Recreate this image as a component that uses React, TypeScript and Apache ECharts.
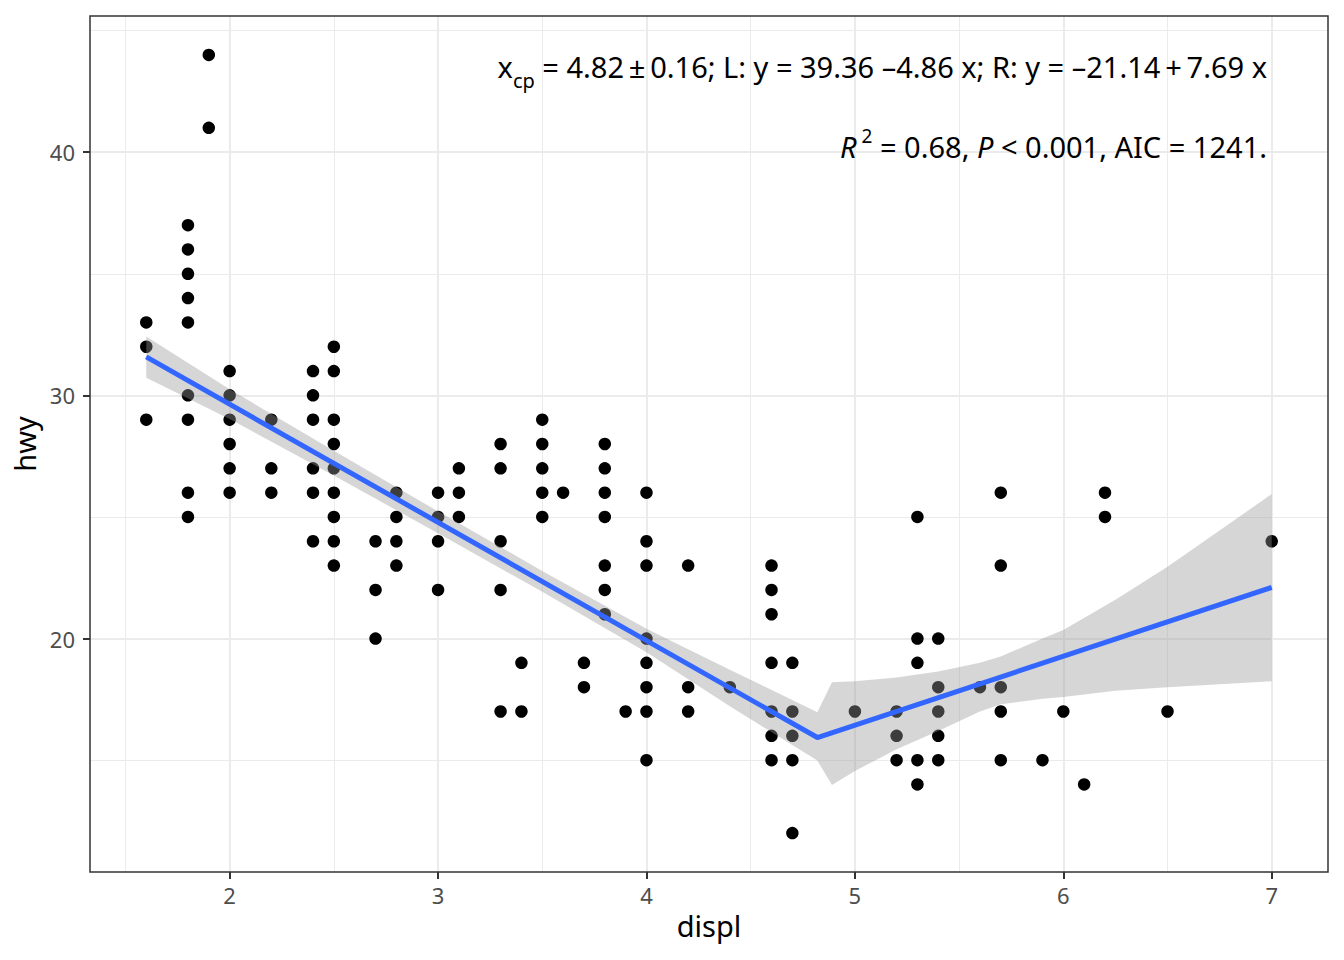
import React, { useEffect, useRef } from "react";
import * as echarts from "echarts";

// displ columns and the hwy values observed at each
const displCols = [1.6, 1.8, 1.9, 2.0, 2.2, 2.4, 2.5, 2.7, 2.8, 3.0, 3.1, 3.3, 3.4, 3.5, 3.6, 3.7, 3.8, 3.9, 4.0, 4.2, 4.4, 4.6, 4.7, 5.0, 5.2, 5.3, 5.4, 5.6, 5.7, 5.9, 6.0, 6.1, 6.2, 6.5, 7.0];
const hwyCols = [
  [33, 32, 29],
  [37, 36, 35, 34, 33, 30, 29, 26, 25],
  [44, 41],
  [31, 30, 29, 28, 27, 26],
  [29, 27, 26],
  [31, 30, 29, 27, 26, 24],
  [32, 31, 29, 28, 27, 26, 25, 24, 23],
  [24, 22, 20],
  [26, 25, 24, 23],
  [26, 25, 24, 22],
  [27, 26, 25],
  [28, 27, 24, 22, 17],
  [19, 17],
  [29, 28, 27, 26, 25],
  [26],
  [19, 18],
  [28, 27, 26, 25, 23, 22, 21],
  [17],
  [26, 24, 23, 20, 19, 18, 17, 15],
  [23, 18, 17],
  [18],
  [23, 22, 21, 19, 17, 16, 15],
  [19, 17, 16, 15, 12],
  [17],
  [17, 16, 15],
  [25, 20, 19, 15, 14],
  [20, 18, 17, 16, 15],
  [18],
  [26, 23, 18, 17, 15],
  [15],
  [17],
  [14],
  [26, 25],
  [17],
  [24],
];

// fitted segmented line
const fitX = [1.6, 4.82, 7.0];
const fitY = [31.58, 15.93, 22.1];

// confidence band
const bandX = [1.6, 2.0, 2.5, 3.0, 3.5, 4.0, 4.4, 4.82, 4.89, 5.0, 5.2, 5.4, 5.6, 5.7, 5.9, 6.0, 6.25, 6.5, 7.0];
const bandUpper = [32.42, 30.25, 27.72, 25.23, 22.78, 20.4, 18.72, 16.97, 18.2, 18.24, 18.4, 18.65, 19.0, 19.26, 20.0, 20.35, 21.6, 22.95, 25.94];
const bandLower = [30.72, 29.03, 26.7, 24.33, 21.92, 19.44, 17.22, 14.98, 13.98, 14.55, 15.45, 16.2, 17.0, 17.3, 17.52, 17.6, 17.85, 18.0, 18.24];

const xTicks = [2, 3, 4, 5, 6, 7];
const yTicks = [20, 30, 40];
const xRange = [1.33, 7.27];
const yRange = [10.4, 45.6];

const W = 1344;
const H = 960;
const G = { left: 90, right: 16, top: 16, bottom: 88 };

export default function App() {
  const ref = useRef<HTMLDivElement>(null);
  useEffect(() => {
    if (!ref.current) return;
    const chart = echarts.init(ref.current, undefined, { renderer: "svg" });
    const points: number[][] = [];
    displCols.forEach((d, i) => hwyCols[i].forEach((h) => points.push([d, h])));
    const bandData = bandX.map((x, i) => [x, bandUpper[i], bandLower[i]]);
    const font = "Noto Sans";
    const option: any = {
      animation: false,
      textStyle: { fontFamily: font },
      grid: { left: G.left, right: G.right, top: G.top, bottom: G.bottom, show: false, containLabel: false },
      xAxis: {
        type: "value",
        min: xRange[0],
        max: xRange[1],
        splitNumber: 6,
        name: "displ",
        nameLocation: "middle",
        nameGap: 39,
        nameTextStyle: { color: "#000000", fontSize: 29, fontFamily: font },
        axisLine: { show: false },
        axisTick: { show: true, length: 7, lineStyle: { color: "#333333", width: 2 }, customValues: xTicks },
        axisLabel: { customValues: xTicks, color: "#4D4D4D", fontSize: 22, margin: 12, fontFamily: font },
        splitLine: { show: true, lineStyle: { color: "#EBEBEB", width: 2 } },
        minorTick: { show: false, splitNumber: 2 },
        minorSplitLine: { show: true, lineStyle: { color: "#EBEBEB", width: 1 } },
      },
      yAxis: {
        type: "value",
        min: yRange[0],
        max: yRange[1],
        splitNumber: 4,
        name: "hwy",
        nameLocation: "middle",
        nameGap: 51,
        nameRotate: 90,
        nameTextStyle: { color: "#000000", fontSize: 29, fontFamily: font },
        axisLine: { show: false },
        axisTick: { show: true, length: 7, lineStyle: { color: "#333333", width: 2 }, customValues: yTicks },
        axisLabel: { customValues: yTicks, color: "#4D4D4D", fontSize: 22, margin: 15, fontFamily: font },
        splitLine: { show: true, lineStyle: { color: "#EBEBEB", width: 2 } },
        minorTick: { show: false, splitNumber: 2 },
        minorSplitLine: { show: true, lineStyle: { color: "#EBEBEB", width: 1 } },
      },
      series: [
        {
          type: "scatter",
          data: points,
          symbol: "circle",
          symbolSize: 12.5,
          itemStyle: { color: "#000000", opacity: 1 },
          z: 2,
          silent: true,
        },
        {
          type: "custom",
          data: bandData,
          encode: { x: 0, y: [1, 2] },
          z: 3,
          silent: true,
          renderItem: (params: any, api: any) => {
            if (params.dataIndex !== 0) return null;
            const pts: number[][] = [];
            for (let i = 0; i < bandX.length; i++) pts.push(api.coord([bandX[i], bandUpper[i]]));
            for (let i = bandX.length - 1; i >= 0; i--) pts.push(api.coord([bandX[i], bandLower[i]]));
            return {
              type: "polygon",
              shape: { points: pts },
              style: { fill: "rgba(153,153,153,0.4)", stroke: "none" },
            };
          },
        },
        {
          type: "line",
          data: fitX.map((x, i) => [x, fitY[i]]),
          showSymbol: false,
          symbol: "none",
          lineStyle: { color: "#3366FF", width: 5 },
          z: 4,
          silent: true,
        },
      ],
      graphic: [
        {
          type: "rect",
          z: 100,
          silent: true,
          shape: { x: G.left, y: G.top, width: W - G.left - G.right, height: H - G.top - G.bottom },
          style: { fill: "none", stroke: "#333333", lineWidth: 1.5 },
        },
        {
          type: "text",
          z: 100,
          silent: true,
          x: 1267,
          y: 66,
          style: {
            text: "{x|x}{sub|cp}{n| = 4.82\u2009±\u20090.16; L: y = 39.36 –4.86 x; R: y = –21.14\u2009+\u20097.69 x}",
            align: "right",
            verticalAlign: "middle",
            fontFamily: font,
            rich: {
              x: { fontSize: 29, fontFamily: font, fill: "#000", lineHeight: 48, verticalAlign: "middle" },
              sub: { fontSize: 20, fontFamily: font, fill: "#000", lineHeight: 20, verticalAlign: "bottom" },
              n: { fontSize: 29, fontFamily: font, fill: "#000", lineHeight: 48, verticalAlign: "middle" },
            },
          },
        },
        {
          type: "text",
          z: 100,
          silent: true,
          x: 1267,
          y: 146,
          style: {
            text: "{it|R}{sup|2}{n| = 0.68, }{it|P}{n| < 0.001, AIC = 1241.}",
            align: "right",
            verticalAlign: "middle",
            fontFamily: font,
            rich: {
              it: { fontSize: 29, fontFamily: font, fontStyle: "italic", fill: "#000", lineHeight: 40, verticalAlign: "middle" },
              sup: { fontSize: 19, fontFamily: font, fill: "#000", lineHeight: 19, verticalAlign: "top", padding: [0, 0, 0, 5] },
              n: { fontSize: 29, fontFamily: font, fill: "#000", lineHeight: 40, verticalAlign: "middle" },
            },
          },
        },
      ],
    };
    chart.setOption(option);
    return () => chart.dispose();
  }, []);
  return (
    <div
      ref={ref}
      style={{ position: "fixed", left: 0, top: 0, width: W, height: H, background: "#ffffff" }}
    />
  );
}
